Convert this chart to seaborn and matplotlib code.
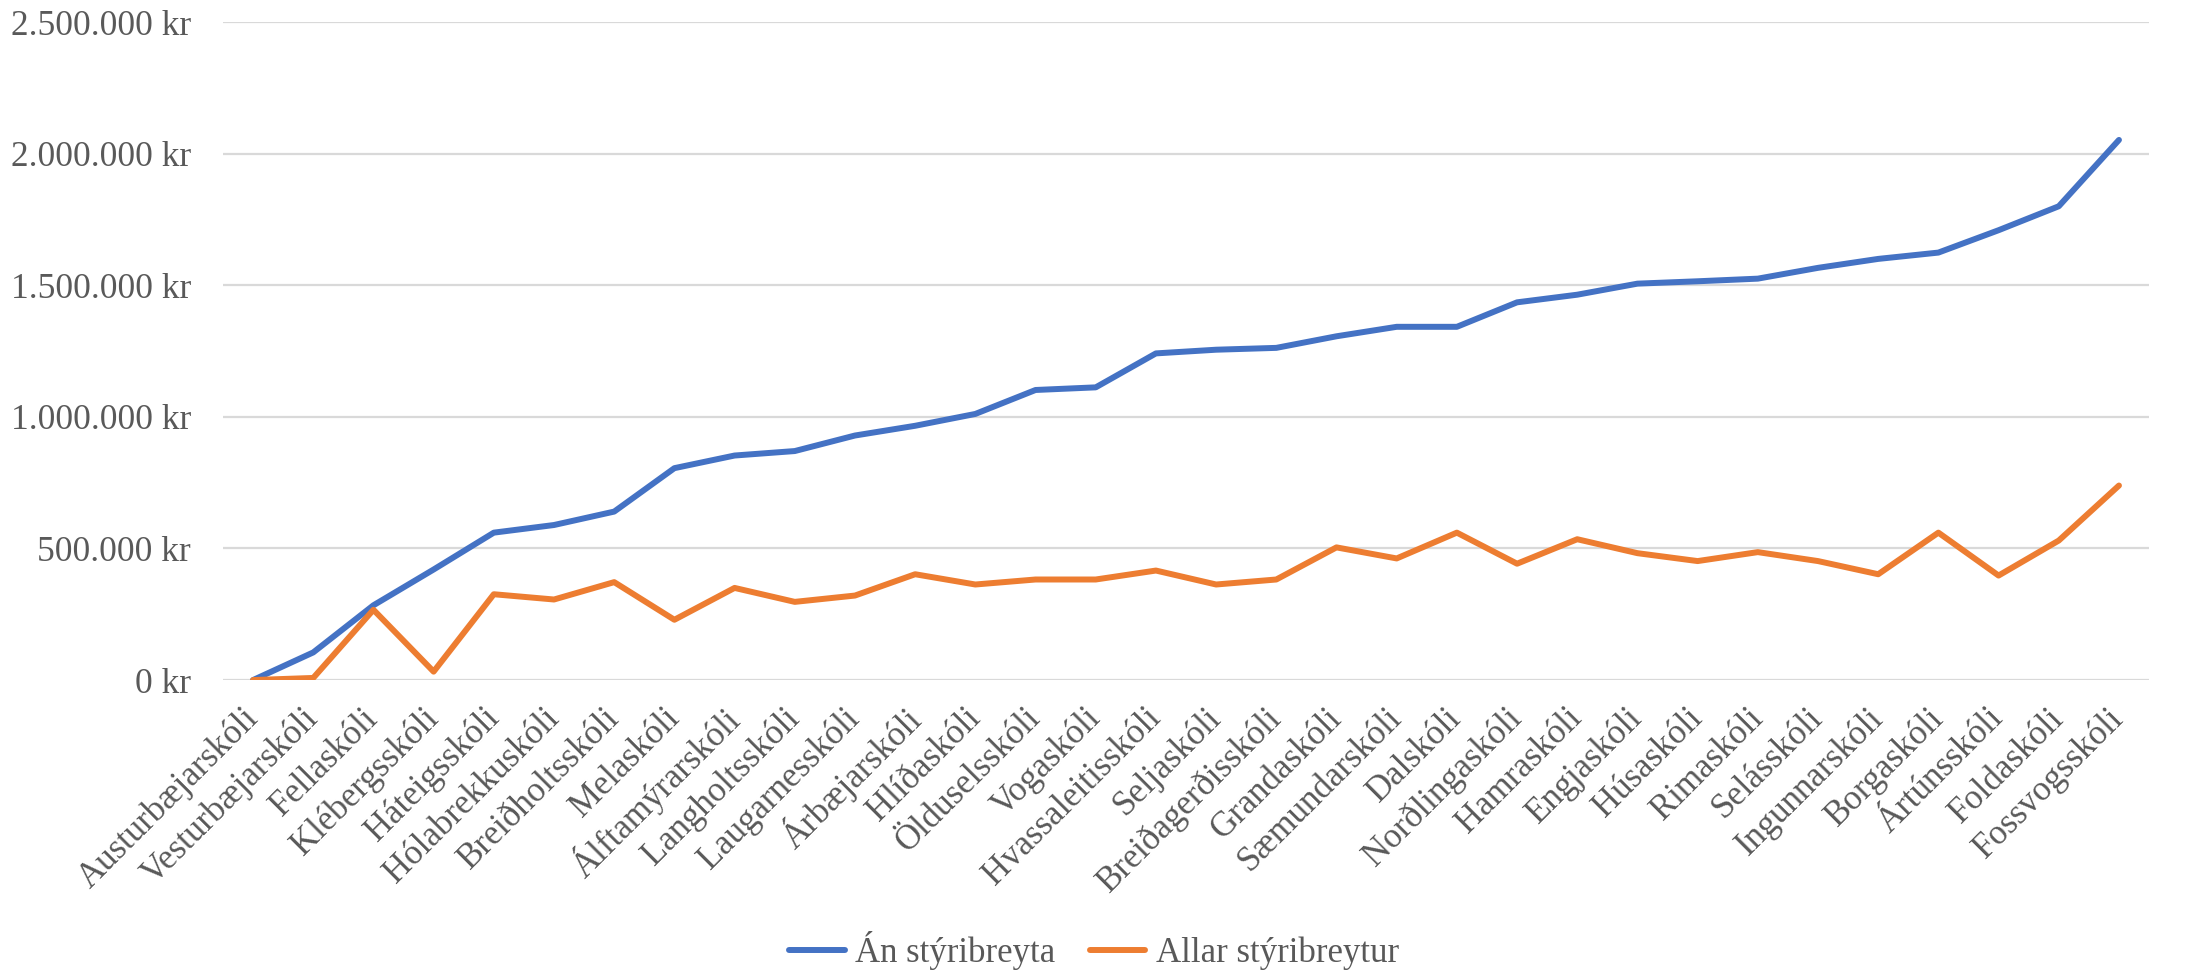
import numpy as np
import pandas as pd
import matplotlib
matplotlib.use("Agg")
import matplotlib.pyplot as plt
import seaborn as sns
from matplotlib.ticker import FuncFormatter, MultipleLocator

schools = ["Austurbæjarskóli", "Vesturbæjarskóli", "Fellaskóli", "Klébergsskóli",
           "Háteigsskóli", "Hólabrekkuskóli", "Breiðholtsskóli", "Melaskóli",
           "Álftamýrarskóli", "Langholtsskóli", "Laugarnesskóli", "Árbæjarskóli",
           "Hlíðaskóli", "Ölduselsskóli", "Vogaskóli", "Hvassaleitisskóli",
           "Seljaskóli", "Breiðagerðisskóli", "Grandaskóli", "Sæmundarskóli",
           "Dalskóli", "Norðlingaskóli", "Hamraskóli", "Engjaskóli", "Húsaskóli",
           "Rimaskóli", "Selásskóli", "Ingunnarskóli", "Borgaskóli", "Ártúnsskóli",
           "Foldaskóli", "Fossvogsskóli"]

an_styribreyta = [0, 105000, 284000, 420000, 560000, 589000, 640000, 805000,
                  853000, 870000, 929000, 966000, 1011000, 1102000, 1112000, 1241000,
                  1255000, 1262000, 1306000, 1342000, 1342000, 1435000, 1464000, 1506000,
                  1515000, 1525000, 1566000, 1600000, 1624000, 1709000, 1800000, 2052000]

allar_styribreytur = [0, 8000, 267000, 32000, 326000, 306000, 372000, 229000,
                      350000, 297000, 321000, 402000, 363000, 382000, 382000, 416000,
                      363000, 382000, 504000, 462000, 560000, 442000, 535000, 482000,
                      452000, 486000, 452000, 402000, 560000, 397000, 530000, 739000]

series_names = ["Án stýribreyta", "Allar stýribreytur"]
colors = ["#4472C4", "#ED7D31"]

pos = np.arange(len(schools))
df = pd.concat([
    pd.DataFrame({"pos": pos, "skoli": schools, "value": an_styribreyta, "series": series_names[0]}),
    pd.DataFrame({"pos": pos, "skoli": schools, "value": allar_styribreytur, "series": series_names[1]}),
])

sns.set_theme(style="white")
plt.rcParams["font.family"] = ["Liberation Serif", "DejaVu Serif"]
text_color = "#595959"

fig = plt.figure(figsize=(21.88, 9.74), dpi=100)
ax = fig.add_axes([0.1019, 0.3018, 0.8803, 0.6756])

sns.lineplot(data=df, x="pos", y="value", hue="series", palette=colors,
             hue_order=series_names, linewidth=4.3, ax=ax, legend=True, sort=False)
for ln in ax.get_lines():
    ln.set_solid_joinstyle("round")
    ln.set_solid_capstyle("round")

ax.set_xlim(-0.5, len(schools) - 0.5)
ax.set_ylim(0, 2500000)
ax.yaxis.set_major_locator(MultipleLocator(500000))
ax.yaxis.set_major_formatter(FuncFormatter(lambda v, p: f"{v:,.0f} kr".replace(",", ".")))
ax.grid(axis="y", color="#D9D9D9", linewidth=1.6)
ax.grid(axis="x", visible=False)
for s in ax.spines.values():
    s.set_visible(False)

ax.set_xticks(pos)
ax.set_xticklabels(schools, rotation=45, ha="right", va="center", rotation_mode="anchor")
ax.tick_params(axis="x", length=0, pad=24, labelsize=25, labelcolor=text_color)
ax.tick_params(axis="y", length=0, pad=23, labelsize=25.5, labelcolor=text_color)
ax.set_xlabel("")
ax.set_ylabel("")

handles, labels = ax.get_legend_handles_labels()
ax.legend_.remove()
leg = fig.legend(handles, labels, loc="center", bbox_to_anchor=(0.5, 0.024), ncol=2,
                 frameon=False, fontsize=25, handlelength=1.6, columnspacing=1.0,
                 handletextpad=0.3)
for t in leg.get_texts():
    t.set_color(text_color)

fig.savefig("out.png", dpi=100)
